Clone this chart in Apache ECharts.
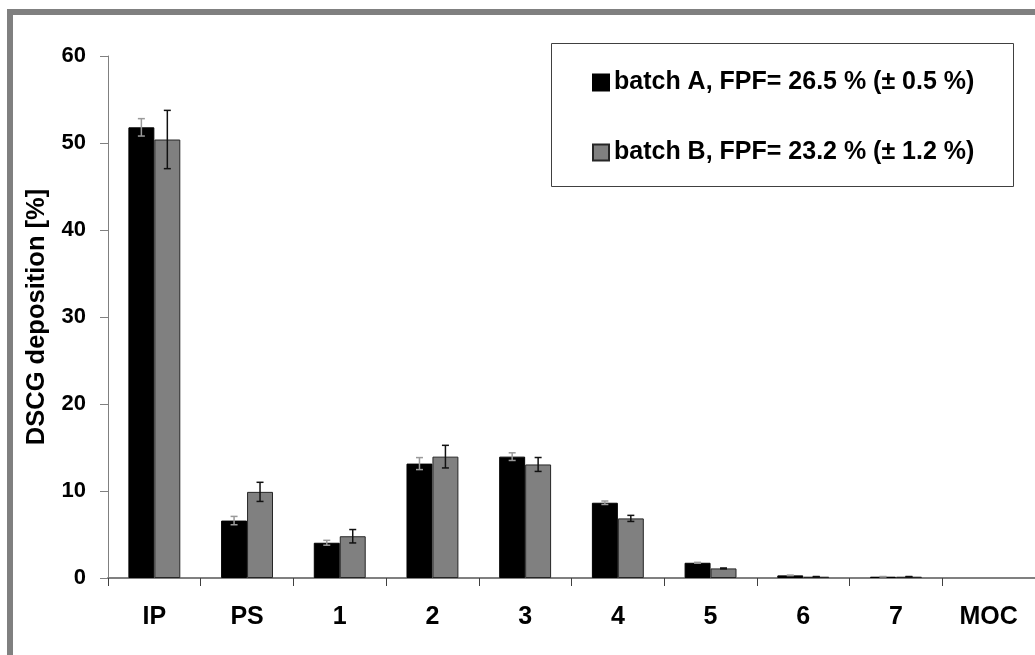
<!DOCTYPE html>
<html>
<head>
<meta charset="utf-8">
<script src="https://cdn.jsdelivr.net/npm/echarts@6/dist/echarts.min.js"></script>
<style>
html,body{margin:0;padding:0;background:#fff;}
#chart{width:1035px;height:655px;}
</style>
</head>
<body>
<div id="chart"></div>
<script>
// ---- data ----
const categories = ['IP', 'PS', '1', '2', '3', '4', '5', '6', '7', 'MOC'];
const batchA = [51.8, 6.6, 4.05, 13.15, 13.95, 8.65, 1.75, 0.3, 0.15, 0];
const batchB = [50.4, 9.9, 4.8, 13.95, 13.05, 6.85, 1.1, 0.15, 0.15, 0];
const errA = [1.0, 0.48, 0.28, 0.69, 0.44, 0.2, 0.05, 0.03, 0.02, 0];
const errB = [3.35, 1.1, 0.77, 1.3, 0.8, 0.35, 0.05, 0.02, 0.02, 0];
const seriesNames = ['batch A, FPF= 26.5 % (\u00B1 0.5 %)', 'batch B, FPF= 23.2 % (\u00B1 1.2 %)'];
const yTicks = [0, 10, 20, 30, 40, 50, 60];

const FONT = '"Liberation Sans", Arial, sans-serif';
const BAR_FRAC = 0.28;

function barData(vals) {
  // zero-height bars get no outline so they vanish into the axis line
  return vals.map(v => v === 0 ? { value: v, itemStyle: { borderWidth: 0 } } : v);
}
function errData(vals, errs) {
  return vals.map((v, i) => [i, v - errs[i], v + errs[i]]);
}
function errSeries(vals, errs, color, sign) {
  return {
    type: 'custom',
    silent: true,
    z: 5,
    data: errData(vals, errs),
    encode: { x: 0, y: [1, 2] },
    renderItem: function (params, api) {
      const idx = api.value(0);
      const lo = api.value(1), hi = api.value(2);
      if (hi - lo <= 0) return null;
      const band = api.size([1, 0])[0];
      const off = sign * band * BAR_FRAC / 2;
      const pLo = api.coord([idx, lo]);
      const pHi = api.coord([idx, hi]);
      const cx = pLo[0] + off;
      const cap = 3.5;
      const st = { stroke: color, lineWidth: 1.5 };
      return {
        type: 'group',
        children: [
          { type: 'line', shape: { x1: cx, y1: pLo[1], x2: cx, y2: pHi[1] }, style: st },
          { type: 'line', shape: { x1: cx - cap, y1: pHi[1], x2: cx + cap, y2: pHi[1] }, style: st },
          { type: 'line', shape: { x1: cx - cap, y1: pLo[1], x2: cx + cap, y2: pLo[1] }, style: st }
        ]
      };
    }
  };
}

const chart = echarts.init(document.getElementById('chart'), null, { renderer: 'canvas' });
chart.setOption({
  backgroundColor: '#fff',
  animation: false,
  textStyle: { fontFamily: FONT },
  graphic: [
    { type: 'rect', z: 0, shape: { x: 10, y: 12, width: 1100, height: 700 },
      style: { fill: 'none', stroke: '#808080', lineWidth: 6 } },
    { type: 'rect', z: 0, shape: { x: 551.5, y: 43.5, width: 462, height: 143 },
      style: { fill: '#fff', stroke: '#404040', lineWidth: 1 } }
  ],
  legend: {
    orient: 'vertical',
    left: 592,
    top: 70,
    padding: 0,
    itemGap: 45,
    itemWidth: 16,
    itemHeight: 16,
    icon: 'rect',
    z: 10,
    data: seriesNames,
    textStyle: { fontFamily: FONT, fontSize: 25, fontWeight: 'bold', color: '#000' }
  },
  grid: { left: 108, top: 56, width: 928, bottom: 77, containLabel: false },
  xAxis: {
    type: 'category',
    data: categories,
    boundaryGap: true,
    axisLine: { lineStyle: { color: '#808080', width: 2 } },
    axisTick: { show: true, length: 8, alignWithLabel: false, lineStyle: { color: '#404040', width: 1 } },
    axisLabel: { margin: 27, fontFamily: FONT, fontSize: 25, fontWeight: 'bold', color: '#000' },
    splitLine: { show: false }
  },
  yAxis: {
    type: 'value',
    min: yTicks[0],
    max: yTicks[yTicks.length - 1],
    interval: 10,
    name: 'DSCG deposition [%]',
    nameLocation: 'middle',
    nameGap: 58,
    nameRotate: 90,
    nameTextStyle: { fontFamily: FONT, fontSize: 25.5, fontWeight: 'bold', color: '#000' },
    axisLine: { show: true, lineStyle: { color: '#808080', width: 1 } },
    axisTick: { show: true, length: 8, lineStyle: { color: '#808080', width: 1 } },
    axisLabel: { margin: 22, fontFamily: FONT, fontSize: 22, fontWeight: 'bold', color: '#000' },
    splitLine: { show: false }
  },
  series: [
    {
      name: seriesNames[0], type: 'bar', data: barData(batchA),
      barWidth: (BAR_FRAC * 100) + '%', barGap: '0%',
      itemStyle: { color: '#000000', borderColor: '#000000', borderWidth: 1 }
    },
    {
      name: seriesNames[1], type: 'bar', data: barData(batchB),
      barWidth: (BAR_FRAC * 100) + '%', barGap: '0%',
      itemStyle: { color: '#808080', borderColor: '#262626', borderWidth: 1 }
    },
    errSeries(batchA, errA, '#9a9a9a', -1),
    errSeries(batchB, errB, '#111111', 1)
  ]
});
</script>
</body>
</html>
